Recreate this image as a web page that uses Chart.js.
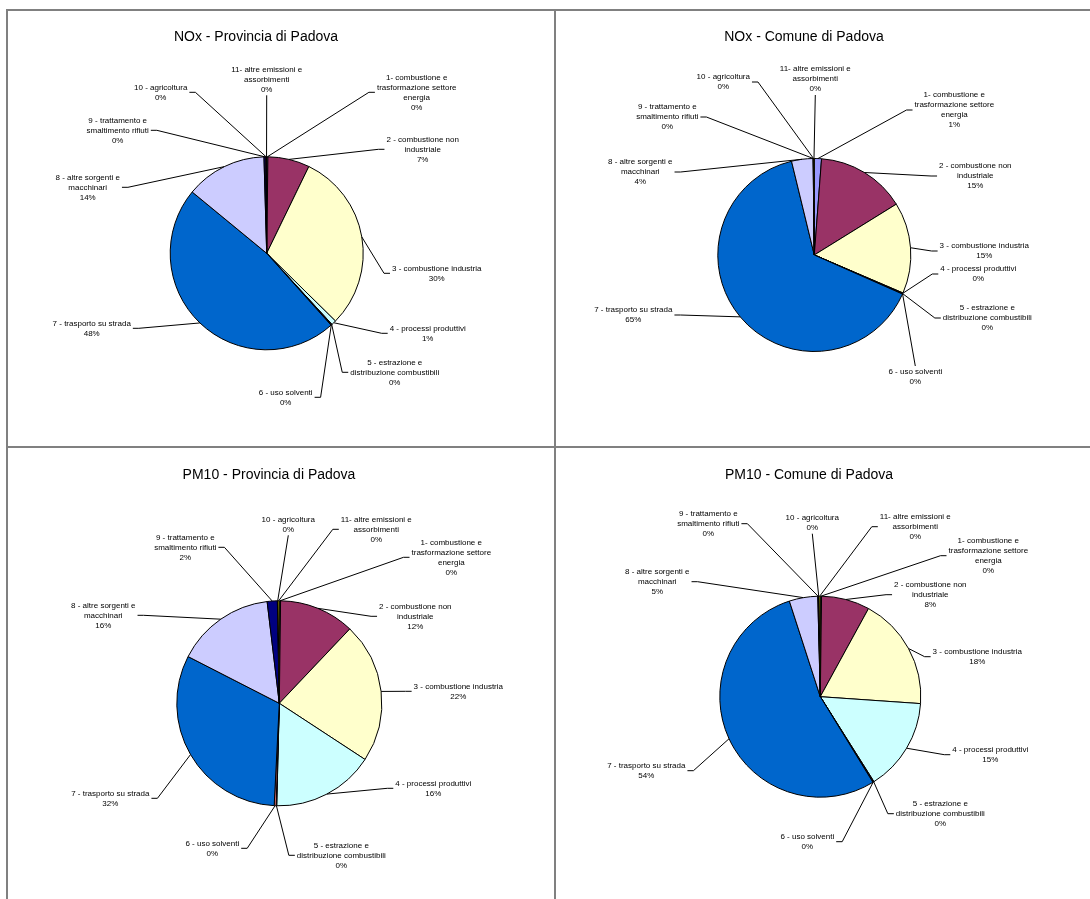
<!DOCTYPE html>
<html>
<head>
<meta charset="utf-8">
<script src="https://cdn.jsdelivr.net/npm/chart.js@4.4.1/dist/chart.umd.min.js"></script>
<style>
    body { margin: 0; background: #fff; width: 1090px; height: 899px; overflow: hidden; position: relative; }
    canvas { position: absolute; }
    .linea { position: absolute; background: #808080; }
</style>
</head>
<body>
<canvas id="noxProv" width="545" height="445" style="left:0;top:0"></canvas>
<canvas id="noxCom" width="545" height="445" style="left:545px;top:0"></canvas>
<canvas id="pmProv" width="545" height="454" style="left:0;top:445px"></canvas>
<canvas id="pmCom" width="545" height="454" style="left:545px;top:445px"></canvas>

<div class="linea" style="left:6px;top:9px;width:1084px;height:2px"></div>
<div class="linea" style="left:6px;top:9px;width:2px;height:890px"></div>
<div class="linea" style="left:554px;top:9px;width:2px;height:890px"></div>
<div class="linea" style="left:6px;top:446px;width:1084px;height:2px"></div>

<script>
// Macrosettori (etichette)
const categorie = [
    '1- combustione e\ntrasformazione settore\nenergia',
    '2 - combustione non\nindustriale',
    '3 - combustione industria',
    '4 - processi produttivi',
    '5 - estrazione e\ndistribuzione combustibili',
    '6 - uso solventi',
    '7 - trasporto su strada',
    '8 - altre sorgenti e\nmacchinari',
    '9 - trattamento e\nsmaltimento rifiuti',
    '10 - agricoltura',
    '11- altre emissioni e\nassorbimenti'
];

// Quote di emissione (%)
const noxProvincia = [0.2, 7.0, 30.2, 0.8, 0.1, 0.1, 47.6, 13.6, 0.3, 0.1, 0.05];
const noxComune = [1.2, 15.0, 15.3, 0.1, 0.05, 0.05, 64.7, 3.6, 0.05, 0.05, 0.1];
const pm10Provincia = [0.2, 11.9, 22.2, 16.2, 0.1, 0.3, 31.8, 15.6, 1.6, 0.1, 0.2];
const pm10Comune = [0.2, 7.8, 18.2, 15.0, 0.1, 0.1, 54.0, 4.6, 0.1, 0.1, 0.2];

// Colori (tavolozza standard)
const colori = ['#9999FF', '#993366', '#FFFFCC', '#CCFFFF', '#660066', '#FF8080',
                '#0066CC', '#CCCCFF', '#000080', '#FF00FF', '#FFFF00'];

// Posizione delle etichette rispetto al centro della torta (px)
const posNoxProv = [[150,-161],[156,-104],[170,20],[161,80],[128,119],[19,144],[-175,75],[-179,-66],[-149,-123],[-106,-161],[0,-174]];
const posNoxCom = [[140,-145],[161,-79],[170,-4],[164,19],[173,63],[101,122],[-181,60],[-174,-83],[-147,-138],[-91,-173],[1,-176]];
const posPmProv = [[172,-146],[136,-87],[179,-12],[154,85],[62,152],[-67,145],[-169,95],[-176,-88],[-94,-156],[9,-179],[97,-174]];
const posPmCom = [[168,-141],[110,-102],[157,-40],[170,58],[120,117],[-13,145],[-174,74],[-163,-115],[-112,-173],[-8,-174],[95,-170]];

const FONT = '"Liberation Sans", Arial, sans-serif';

// Plugin: titolo + etichette esterne con linee di richiamo
const etichette = {
    id: 'etichette',
    afterDatasetsDraw(chart, args, opts) {
        const ctx = chart.ctx;
        const meta = chart.getDatasetMeta(0);
        const valori = chart.data.datasets[0].data;
        const totale = valori.reduce((a, b) => a + b, 0);
        ctx.save();
        ctx.fillStyle = '#000';
        ctx.strokeStyle = '#000';
        ctx.lineWidth = 1;
        ctx.textAlign = 'center';
        ctx.textBaseline = 'middle';

        // titolo
        ctx.font = '14px ' + FONT;
        ctx.fillText(opts.titolo, opts.titoloX, opts.titoloY);

        ctx.font = '8px ' + FONT;
        meta.data.forEach((arc, i) => {
            const righe = chart.data.labels[i].split('\n');
            righe.push(Math.round(valori[i] / totale * 100) + '%');
            const lx = arc.x + opts.pos[i][0];
            const ly = arc.y + opts.pos[i][1];
            const w = Math.max(...righe.map(r => ctx.measureText(r).width));
            const h = righe.length * 10;
            const sx = lx - w / 2, dx = lx + w / 2;

            // punto sul bordo della fetta
            const mid = (arc.startAngle + arc.endAngle) / 2;
            const ex = arc.x + Math.cos(mid) * arc.outerRadius;
            const ey = arc.y + Math.sin(mid) * arc.outerRadius;

            ctx.beginPath();
            ctx.moveTo(ex, ey);
            if (ex < sx - 2) {
                ctx.lineTo(sx - 8, ly);
                ctx.lineTo(sx - 2, ly);
            } else if (ex > dx + 2) {
                ctx.lineTo(dx + 8, ly);
                ctx.lineTo(dx + 2, ly);
            } else if (ey > ly) {
                ctx.lineTo(lx, ly + h / 2 + 1);
            } else {
                ctx.lineTo(lx, ly - h / 2 - 1);
            }
            ctx.stroke();

            righe.forEach((r, j) => {
                ctx.fillText(r, lx, ly - h / 2 + 5 + j * 10);
            });
        });
        ctx.restore();
    }
};

function creaTorta(id, valori, titolo, cx, cy, r, titoloX, titoloY, pos) {
    const canvas = document.getElementById(id);
    const W = canvas.width, H = canvas.height;
    new Chart(canvas.getContext('2d'), {
        type: 'pie',
        data: {
            labels: categorie,
            datasets: [{
                data: valori,
                backgroundColor: colori,
                borderColor: '#000',
                borderWidth: 1
            }]
        },
        options: {
            responsive: false,
            animation: false,
            layout: {
                padding: { left: cx - r, right: W - cx - r, top: cy - r, bottom: H - cy - r }
            },
            plugins: {
                legend: { display: false },
                tooltip: { enabled: false },
                etichette: { titolo: titolo, titoloX: titoloX, titoloY: titoloY, pos: pos }
            }
        },
        plugins: [etichette]
    });
}

creaTorta('noxProv', noxProvincia, 'NOx - Provincia di Padova', 266.7, 253.3, 97, 256, 37, posNoxProv);
creaTorta('noxCom', noxComune, 'NOx - Comune di Padova', 269.3, 255, 97, 259, 37, posNoxCom);
creaTorta('pmProv', pm10Provincia, 'PM10 - Provincia di Padova', 279.3, 258.3, 103, 269, 30, posPmProv);
creaTorta('pmCom', pm10Comune, 'PM10 - Comune di Padova', 275.3, 251.7, 101, 264, 30, posPmCom);
</script>
</body>
</html>
